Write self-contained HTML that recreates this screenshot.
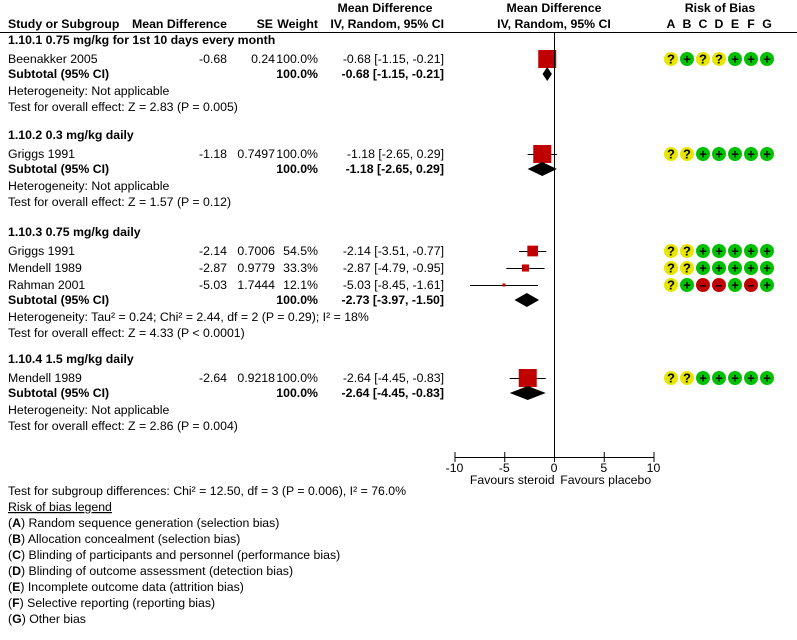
<!DOCTYPE html>
<html><head><meta charset="utf-8"><style>
body{margin:0;background:#fff}
svg{display:block;font-family:"Liberation Sans",Arial,sans-serif;font-size:12.3px;fill:#000}
.b{font-weight:bold}
</style></head><body>
<svg id="c" width="797" height="640">
<g id="hdr">
<text x="385" y="12" text-anchor="middle" class="b">Mean Difference</text>
<text x="554" y="12" text-anchor="middle" class="b">Mean Difference</text>
<text x="720" y="12" text-anchor="middle" class="b">Risk of Bias</text>
<text x="8" y="28" class="b">Study or Subgroup</text>
<text x="227" y="28" text-anchor="end" class="b">Mean Difference</text>
<text x="273" y="28" text-anchor="end" class="b">SE</text>
<text x="318" y="28" text-anchor="end" class="b">Weight</text>
<text x="444" y="28" text-anchor="end" class="b">IV, Random, 95% CI</text>
<text x="554" y="28" text-anchor="middle" class="b">IV, Random, 95% CI</text>
<line x1="0" y1="32.5" x2="797" y2="32.5" stroke="#000"/>
</g>
<g id="rows"></g><g id="marks"></g><g id="axis"></g>
<g>
<text x="8" y="495">Test for subgroup differences: Chi² = 12.50, df = 3 (P = 0.006), I² = 76.0%</text>
<text x="8" y="511" text-decoration="underline">Risk of bias legend</text>
<text x="8" y="527">(<tspan class="b">A</tspan>) Random sequence generation (selection bias)</text>
<text x="8" y="543">(<tspan class="b">B</tspan>) Allocation concealment (selection bias)</text>
<text x="8" y="559">(<tspan class="b">C</tspan>) Blinding of participants and personnel (performance bias)</text>
<text x="8" y="575">(<tspan class="b">D</tspan>) Blinding of outcome assessment (detection bias)</text>
<text x="8" y="591">(<tspan class="b">E</tspan>) Incomplete outcome data (attrition bias)</text>
<text x="8" y="607">(<tspan class="b">F</tspan>) Selective reporting (reporting bias)</text>
<text x="8" y="623">(<tspan class="b">G</tspan>) Other bias</text>
</g>
</svg>
<script>
const groupTitles=["1.10.1 0.75 mg/kg for 1st 10 days every month","1.10.2 0.3 mg/kg daily","1.10.3 0.75 mg/kg daily","1.10.4 1.5 mg/kg daily"];
const studyNames=[["Beenakker 2005"],["Griggs 1991"],["Griggs 1991","Mendell 1989","Rahman 2001"],["Mendell 1989"]];
const studyMD=[[-0.68],[-1.18],[-2.14,-2.87,-5.03],[-2.64]];
const studySE=[["0.24"],["0.7497"],["0.7006","0.9779","1.7444"],["0.9218"]];
const studyWeight=[[100.0],[100.0],[54.5,33.3,12.1],[100.0]];
const studyLo=[[-1.15],[-2.65],[-3.51,-4.79,-8.45],[-4.45]];
const studyHi=[[-0.21],[0.29],[-0.77,-0.95,-1.61],[-0.83]];
const studyBias=[["?+??+++"],["??+++++"],["??+++++","??+++++","?+--+-+"],["??+++++"]];
const subMD=[-0.68,-1.18,-2.73,-2.64];
const subLo=[-1.15,-2.65,-3.97,-4.45];
const subHi=[-0.21,0.29,-1.50,-0.83];
const hetText=["Heterogeneity: Not applicable","Heterogeneity: Not applicable","Heterogeneity: Tau² = 0.24; Chi² = 2.44, df = 2 (P = 0.29); I² = 18%","Heterogeneity: Not applicable"];
const testText=["Test for overall effect: Z = 2.83 (P = 0.005)","Test for overall effect: Z = 1.57 (P = 0.12)","Test for overall effect: Z = 4.33 (P < 0.0001)","Test for overall effect: Z = 2.86 (P = 0.004)"];
const xTicks=[-10,-5,0,5,10];
const biasLetters=["A","B","C","D","E","F","G"];

const NS="http://www.w3.org/2000/svg";
const X=v=>554+v*9.95;
const f2=v=>v.toFixed(2);
const rows=document.getElementById('rows'),marks=document.getElementById('marks'),axis=document.getElementById('axis');
function mk(p,tag,attrs,txt){const e=document.createElementNS(NS,tag);for(const k in attrs)e.setAttribute(k,attrs[k]);if(txt!==undefined)e.textContent=txt;p.appendChild(e);return e;}
function txt(x,y,s,anchor,bold){const e=mk(rows,'text',{x:x,y:y,'text-anchor':anchor||'start'},s);if(bold)e.setAttribute('class','b');


return e;}
biasLetters.forEach((L,i)=>{const t=mk(rows,'text',{x:671+i*16,y:28,'text-anchor':'middle','class':'b'},L);

});
const titleY=[44,139,236,363];
titleY.forEach((ty,g)=>{
  txt(8,ty,groupTitles[g],'start',true);
  let y=ty+19;
  studyNames[g].forEach((nm,i)=>{
    if(i>0)y+=17;
    txt(8,y,nm);txt(227,y,f2(studyMD[g][i]),'end');txt(275,y,studySE[g][i],'end');
    txt(318,y,studyWeight[g][i].toFixed(1)+'%','end');
    txt(444,y,f2(studyMD[g][i])+' ['+f2(studyLo[g][i])+', '+f2(studyHi[g][i])+']','end');
    const cy=y-4;
    const l=mk(marks,'line',{x1:X(studyLo[g][i]),x2:X(studyHi[g][i]),y1:cy+.5,y2:cy+.5,stroke:'#000'});
    
    
    const s=Math.max(3,18*Math.pow(studyWeight[g][i]/100,0.85));
    const r=mk(marks,'rect',{x:X(studyMD[g][i])-s/2,y:cy-s/2,width:s,height:s,fill:'#c00000'});
    
    
    studyBias[g][i].split('').forEach((c,k)=>{
      const cx=671+k*16;
      const col=c==='?'?'#e6e600':(c==='+'?'#00c000':'#c00000');
      const ci=mk(marks,'circle',{cx:cx,cy:cy,r:7,fill:col});
      
      
      const tt=mk(marks,'text',{x:cx,y:cy+4.5,'text-anchor':'middle','class':'b','font-size':'13'},c==='-'?'–':c);
      
      
    });
  });
  y+=15;
  txt(8,y,'Subtotal (95% CI)','start',true);txt(318,y,'100.0%','end',true);
  txt(444,y,f2(subMD[g])+' ['+f2(subLo[g])+', '+f2(subHi[g])+']','end',true);
  const cy=y-4,h=7;
  const d=mk(marks,'polygon',{points:`${X(subLo[g])},${cy} ${X(subMD[g])},${cy-h} ${X(subHi[g])},${cy} ${X(subMD[g])},${cy+h}`,fill:'#000'});
  
  
  y+=17;txt(8,y,hetText[g]);y+=16;txt(8,y,testText[g]);
});
mk(axis,'line',{x1:X(0)+.5,x2:X(0)+.5,y1:33,y2:458,stroke:'#000'});
mk(axis,'line',{x1:X(-10),x2:X(10),y1:457.5,y2:457.5,stroke:'#000'});
xTicks.forEach(v=>{
  const l=mk(axis,'line',{x1:X(v)+.5,x2:X(v)+.5,y1:452,y2:462,stroke:'#000'});
  
  
  const t=mk(axis,'text',{x:X(v),y:472,'text-anchor':'middle'},String(v));
  
  
});
const a=mk(axis,'text',{x:X(-5)+8,y:484,'text-anchor':'middle'},'Favours steroid');


const b=mk(axis,'text',{x:X(5)+2,y:484,'text-anchor':'middle'},'Favours placebo');


</script>
</body></html>
